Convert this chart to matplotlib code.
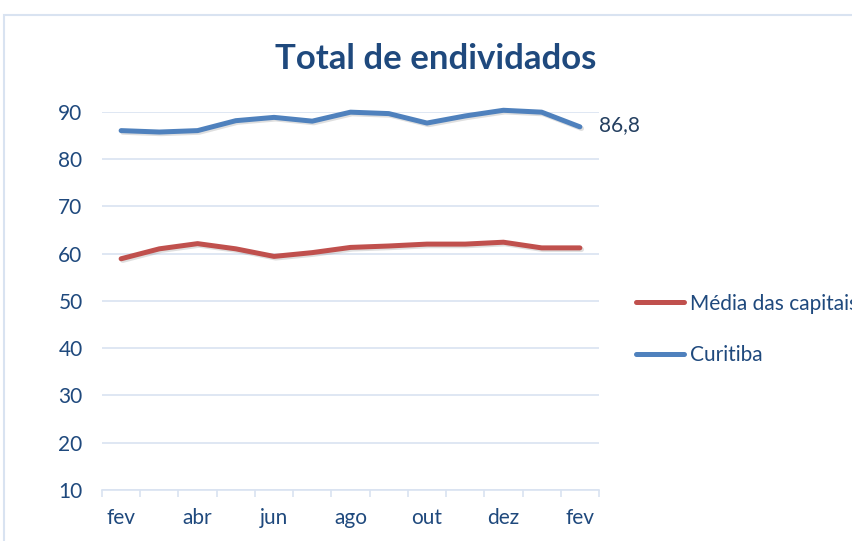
"""Total de endividados - Curitiba vs média das capitais."""
import matplotlib
matplotlib.use("Agg")
import matplotlib.pyplot as plt
import matplotlib.patches as mpatches
import matplotlib.patheffects as pe
import numpy as np

# ── data ──
months = ["fev", "mar", "abr", "mai", "jun", "jul", "ago",
          "set", "out", "nov", "dez", "jan", "fev"]
media_capitais = [58.9, 61.0, 62.1, 61.0, 59.4, 60.2, 61.3,
                  61.6, 62.0, 62.0, 62.4, 61.2, 61.2]
curitiba = [86.0, 85.7, 86.0, 88.1, 88.8, 88.0, 89.9,
            89.6, 87.6, 89.1, 90.3, 89.9, 86.8]
y_ticks = [10, 20, 30, 40, 50, 60, 70, 80, 90]

TXT = "#1F497D"
GRID = "#D9E3F1"
plt.rcParams["font.family"] = ["Lato", "DejaVu Sans"]

fig = plt.figure(figsize=(8.53, 5.41), dpi=100, facecolor="white")
ax = fig.add_axes([102 / 853, 1 - 490 / 541, 497 / 853, (490 - 111.7) / 541])

# chart area border (light blue)
fig.patches.append(mpatches.Rectangle((4 / 853, -0.1), 2.0, 0.1 + 1 - 15 / 541,
                                      transform=fig.transFigure, fill=False,
                                      ec=GRID, lw=1.5, zorder=0))

x = np.arange(len(months))
shadow = [pe.SimpleLineShadow(offset=(1.2, -1.2), alpha=0.25, shadow_color="gray"),
          pe.Normal()]
ax.plot(x, media_capitais, color="#C0504D", lw=3.6, solid_capstyle="round",
        solid_joinstyle="round", label="Média das capitais", clip_on=False,
        path_effects=shadow, zorder=3)
ax.plot(x, curitiba, color="#4F81BD", lw=3.6, solid_capstyle="round",
        solid_joinstyle="round", label="Curitiba", clip_on=False,
        path_effects=shadow, zorder=3)

# last value label
ax.annotate(f"{curitiba[-1]:.1f}".replace(".", ","), (x[-1], curitiba[-1]),
            xytext=(14, 1), textcoords="offset points", ha="left", va="center",
            fontsize=15, color="#243F60")

ax.set_xlim(-0.5, len(months) - 0.5)
ax.set_ylim(10, 90)
ax.set_yticks(y_ticks)
ax.set_yticklabels([str(v) for v in y_ticks], fontsize=15, color=TXT)
ax.tick_params(axis="y", length=0, pad=14)

# category boundary ticks, labels every other month
ax.set_xticks(np.arange(-0.5, len(months)), minor=True)
ax.set_xticks(x[::2])
ax.set_xticklabels(months[::2], fontsize=15, color=TXT)
ax.tick_params(axis="x", which="major", length=0, pad=13)
ax.tick_params(axis="x", which="minor", length=5, color=GRID, width=1.2)

ax.grid(axis="y", color=GRID, lw=1.2)
ax.set_axisbelow(True)
for s in ["top", "right", "left"]:
    ax.spines[s].set_visible(False)
ax.spines["bottom"].set_color(GRID)
ax.spines["bottom"].set_linewidth(1.2)

fig.text(436 / 853, 1 - 59 / 541, "Total de endividados", ha="center", va="center",
         fontsize=25, fontweight="bold", color=TXT)

leg = fig.legend(loc="upper left", bbox_to_anchor=(617 / 853, 1 - 275 / 541),
                 frameon=False, fontsize=15, handlelength=2.3, labelspacing=1.5,
                 handletextpad=0.3, labelcolor=TXT)
for h in leg.legend_handles:
    h.set_path_effects([])

fig.savefig("out.png", dpi=100, facecolor="white")
